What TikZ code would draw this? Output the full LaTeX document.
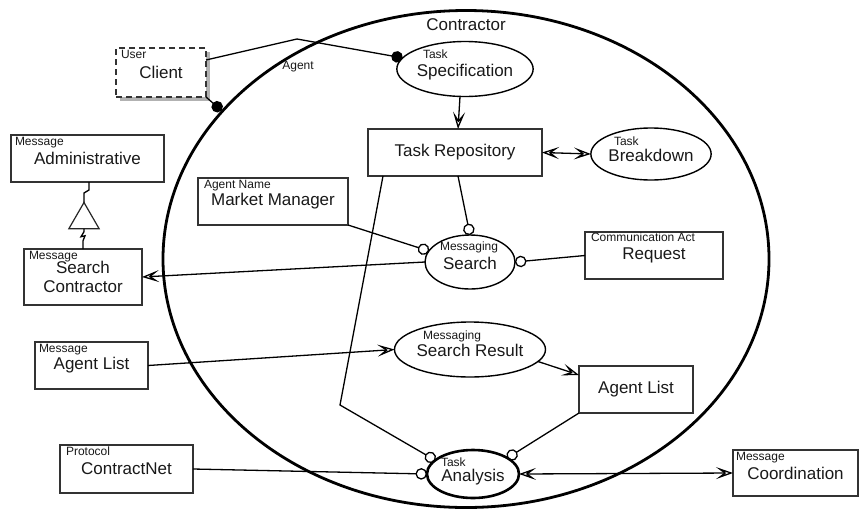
\documentclass[tikz,border=0pt]{standalone}
\usepackage{fontspec}
\setmainfont{Liberation Sans}
\usetikzlibrary{arrows.meta,shapes.geometric,shadows}
\begin{document}
\begin{tikzpicture}[x=1pt,y=-1pt,
  every node/.style={inner sep=0pt, outer sep=0pt, text=black!90},
  mainfont/.style={font=\fontsize{17}{19}\selectfont},
  tagtext/.style={font=\fontsize{12}{13}\selectfont, inner sep=0pt},
  box/.style={draw=black!80, line width=1.2pt, rectangle, mainfont, align=center, fill=white},
  oval/.style={draw=black, line width=1.4pt, ellipse, mainfont, align=center, fill=white,
               text height=17pt, text depth=3pt},
  conn/.style={line width=1.3pt, draw=black},
  openhead/.style={-{Stealth[open,length=17pt,width=12pt,inset=8pt]}},
  bothheads/.style={{Stealth[open,length=17pt,width=12pt,inset=8pt]}-{Stealth[open,length=17pt,width=12pt,inset=8pt]}},
  lolly/.style={-{Circle[open,length=11.5pt]}},
  ballend/.style={-{Circle[length=11.5pt]}},
]
\path[use as bounding box, fill=white] (0,0) rectangle (866,509);

% the agent boundary
\node[draw=black, ellipse, line width=2.8pt, minimum width=606pt, minimum height=497pt] (contractor) at (466,259) {};
\node[mainfont] (contractor-title) at (466,25) {Contractor};

% boxes
\node[box, dash pattern=on 6pt off 4pt, minimum width=90pt, minimum height=49pt,
      drop shadow={shadow xshift=4pt, shadow yshift=-4pt, fill=black!30, opacity=1}] (client) at (161,72.5) {Client};
\node[box, minimum width=174pt, minimum height=47pt] (tr) at (455,152.5) {Task Repository};
\node[box, minimum width=153pt, minimum height=47pt] (admin) at (87.5,158.5) {Administrative};
\node[box, minimum width=118pt, minimum height=56pt] (sc) at (83,277) {Search\\Contractor};
\node[box, minimum width=150pt, minimum height=47pt] (mm) at (273,201.5) {Market Manager};
\node[box, minimum width=138pt, minimum height=47pt] (req) at (654,255.5) {Request};
\node[box, minimum width=113pt, minimum height=47pt] (al1) at (91.5,365.5) {Agent List};
\node[box, minimum width=114pt, minimum height=47pt] (al2) at (636,389.5) {Agent List};
\node[box, minimum width=133pt, minimum height=48pt] (cn) at (126.5,469) {ContractNet};
\node[box, minimum width=125pt, minimum height=46pt] (coord) at (795.5,473) {Coordination};

% ovals
\node[oval, minimum width=133pt, minimum height=55pt] (spec) at (465,69) {Specification};
\node[oval, minimum width=116pt, minimum height=52pt] (bd) at (651,154) {Breakdown};
\node[oval, minimum width=90pt, minimum height=54pt] (search) at (470,262) {Search};
\node[oval, minimum width=144pt, minimum height=55pt] (sr) at (470,349.5) {Search Result};
\node[oval, line width=2.6pt, minimum width=92pt, minimum height=48pt] (an) at (473,474) {Analysis};

% type tags in the box corners
\node[tagtext, anchor=north west] (client-tag) at ([xshift=5pt,yshift=-2pt]client.north west) {User};
\node[tagtext, anchor=north west] (admin-tag) at ([xshift=4pt,yshift=-2pt]admin.north west) {Message};
\node[tagtext, anchor=north west] (sc-tag) at ([xshift=5pt,yshift=-2pt]sc.north west) {Message};
\node[tagtext, anchor=north west] (mm-tag) at ([xshift=6pt,yshift=-2pt]mm.north west) {Agent Name};
\node[tagtext, anchor=north west] (req-tag) at ([xshift=6pt,yshift=-1pt]req.north west) {Communication Act};
\node[tagtext, anchor=north west] (al1-tag) at ([xshift=4pt,yshift=-2pt]al1.north west) {Message};
\node[tagtext, anchor=north west] (cn-tag) at ([xshift=6pt,yshift=-2pt]cn.north west) {Protocol};
\node[tagtext, anchor=north west] (coord-tag) at ([xshift=3pt,yshift=-2pt]coord.north west) {Message};

% type tags inside the ovals
\node[tagtext, anchor=west] (spec-tag) at (423,54) {Task};
\node[tagtext, anchor=west] (bd-tag) at (614,141) {Task};
\node[tagtext, anchor=west] (search-tag) at (440,247) {Messaging};
\node[tagtext, anchor=west] (sr-tag) at (423,336) {Messaging};
\node[tagtext, anchor=west] (an-tag) at (441,462) {Task};

\node[tagtext] (agent-label) at (298,67) {Agent};

% generalization triangle
\node[draw=black!85, line width=1.2pt, regular polygon, regular polygon sides=3,
      minimum size=35pt, fill=white] (gen) at (84,220) {};

\coordinate (kink) at (297,39);
\coordinate (agentdot) at (221.5,110.5);
\coordinate (bendA) at (340,405);

% connectors
\draw[conn, ballend] ([yshift=12.5pt]client.east) -- (kink) -- (spec);
\draw[conn, ballend] (client.south east) -- (agentdot);
\draw[conn, openhead] ([xshift=-5pt]spec.south) -- ([xshift=3pt]tr.north);
\draw[conn, bothheads] (tr.east) -- (bd.west);
\draw[conn] ([xshift=1.5pt]admin.south) -- ++(0,8) -- ++(-5,3) -- (gen.north);
\draw[conn] (gen.south) -- ++(0,3) -- ++(-3,5) -- ++(4,-1) -- ++(-2,5) -- (sc.north);
\draw[conn, openhead] (search.west) -- (sc.east);
\draw[conn, lolly] (mm.south east) -- (search.165);
\draw[conn, lolly] ([xshift=3pt]tr.south) -- (search.north);
\draw[conn, lolly] (req.west) -- (search.east);
\draw[conn, lolly] ([xshift=15pt]tr.south west) -- (bendA) -- (an.160);
\draw[conn, openhead] (al1.east) -- (sr.west);
\draw[conn, openhead] (sr.-10) -- ([yshift=14.5pt]al2.west);
\draw[conn, lolly] (al2.south west) -- (an.25);
\draw[conn, lolly] (cn.east) -- (an.west);
\draw[conn, bothheads] (an.east) -- (coord.west);
\end{tikzpicture}
\end{document}
